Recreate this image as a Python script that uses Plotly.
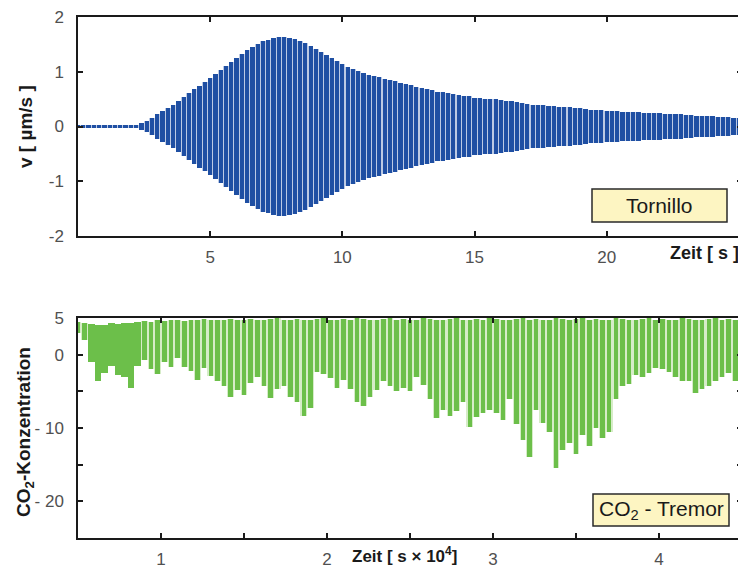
import numpy as np
import plotly.graph_objects as go

# ---- Tornillo: velocity envelope (µm/s), sampled every 0.2 s from t = 0 s ----
tornillo_dt = 0.2
tornillo_amp = [
    0.03, 0.03, 0.03, 0.03, 0.03, 0.03, 0.03, 0.03, 0.03, 0.03, 0.03, 0.03,
    0.06, 0.10, 0.16, 0.22, 0.28, 0.34, 0.40, 0.47, 0.54, 0.61, 0.68, 0.75,
    0.82, 0.89, 0.96, 1.04, 1.11, 1.18, 1.25, 1.32, 1.40, 1.46, 1.51, 1.56,
    1.59, 1.62, 1.63, 1.63, 1.62, 1.60, 1.57, 1.53, 1.48, 1.42, 1.36, 1.30,
    1.25, 1.19, 1.14, 1.09, 1.05, 1.01, 0.98, 0.95, 0.92, 0.90, 0.87, 0.85,
    0.83, 0.80, 0.78, 0.76, 0.73, 0.71, 0.69, 0.66, 0.64, 0.63, 0.61, 0.59,
    0.58, 0.56, 0.55, 0.53, 0.52, 0.51, 0.50, 0.50, 0.49, 0.47, 0.46, 0.44,
    0.43, 0.41, 0.40, 0.39, 0.39, 0.38, 0.37, 0.36, 0.35, 0.35, 0.34, 0.33,
    0.32, 0.31, 0.31, 0.30, 0.29, 0.28, 0.28, 0.27, 0.27, 0.26, 0.26, 0.25,
    0.25, 0.24, 0.24, 0.23, 0.23, 0.22, 0.22, 0.21, 0.21, 0.20, 0.20, 0.19,
    0.19, 0.18, 0.17, 0.17, 0.16, 0.15,
]

# ---- CO2 tremor: upper and lower values, sampled every 0.04 (x 10^4 s) from 0.5 ----
tremor_t0 = 0.5
tremor_dt = 0.04
tremor_top = [
    4.5, 4.4, 4.2, 4.0, 4.1, 4.3, 4.2, 4.4, 4.3, 4.5, 4.6, 4.5,
    4.7, 4.6, 4.8, 4.7, 4.6, 4.8, 4.7, 4.9, 4.8, 4.7, 4.8, 4.9,
    4.8, 4.7, 4.9, 4.8, 4.7, 4.9, 5.0, 4.8, 4.7, 4.9, 4.8, 4.7,
    4.9, 5.0, 4.8, 4.7, 4.9, 4.8, 5.0, 4.9, 4.8, 4.7, 4.9, 5.0,
    4.8, 4.9, 4.7, 4.8, 5.0, 4.9, 4.8, 4.7, 4.9, 5.0, 4.8, 4.7,
    4.9, 4.8, 5.0, 4.9, 4.8, 4.7, 4.9, 5.0, 4.8, 4.9, 4.7, 4.8,
    5.0, 4.9, 4.8, 4.9, 5.0, 4.8, 4.9, 4.7, 4.8, 5.0, 4.9, 4.8,
    4.7, 4.9, 5.0, 4.8, 4.9, 4.7, 4.8, 5.0, 4.9, 4.8, 4.7, 4.9,
    5.0, 4.8, 4.9, 4.7, 4.8,
]
tremor_low = [
    3.0, 2.0, -1.0, -3.6, -2.5, -1.5, -2.8, -3.0, -4.5, -1.5, -0.7, -2.0,
    -2.6, -1.0, -1.7, -0.5, -1.6, -2.2, -3.4, -1.8, -2.9, -3.6, -4.3, -5.7,
    -4.8, -5.5, -3.9, -3.0, -4.2, -5.9, -4.6, -4.3, -5.7, -6.5, -8.4, -7.3,
    -2.3, -2.6, -3.2, -4.5, -3.4, -4.6, -6.4, -7.0, -5.8, -4.8, -3.6, -4.2,
    -5.0, -4.5, -5.0, -3.0, -4.1, -6.0, -8.6, -7.5, -8.4, -7.7, -6.5, -9.8,
    -8.5, -7.9, -7.5, -8.0, -8.9, -6.1, -9.5, -11.6, -13.9, -7.5, -9.3, -10.6,
    -15.5, -13.0, -12.0, -13.5, -11.0, -12.5, -10.0, -11.3, -10.5, -6.1, -4.3, -4.0,
    -2.7, -3.0, -2.5, -1.8, -2.0, -2.3, -3.0, -3.6, -3.6, -5.2, -4.6, -4.3,
    -3.6, -3.0, -2.5, -3.6, -3.0,
]

# tick labels
top_xticks = [5, 10, 15, 20]
top_yticks = [2, 1, 0, -1, -2]
top_ytext = ["2", "1", "0", "-1", "-2"]
bot_xticks = [1, 1.5, 2, 2.5, 3, 3.5, 4]
bot_xtext = ["1", "", "2", "", "3", "", "4"]
bot_yticks = [5, 0, -5, -10, -15, -20]
bot_ytext = ["5", "0", "", "- 10", "", "- 20"]

BLUE = "#1f4fa3"
BLUE_PALE = "#bccae4"
GREEN = "#6cbf4a"
GREEN_PALE = "#d6ecc8"

# page body has an 8px margin: figure is drawn 8px in from the window corner
OFF = 8
WF, HF = 746 - OFF, 568 - OFF


def px(x):
    return (x - OFF) / WF


def py(y):
    return 1 - (y - OFF) / HF


t1 = np.arange(len(tornillo_amp)) * tornillo_dt
a1 = np.array(tornillo_amp)
t2 = tremor_t0 + np.arange(len(tremor_low)) * tremor_dt
top2 = np.array(tremor_top)
low2 = np.array(tremor_low)

fig = go.Figure()
# Tornillo
fig.add_trace(go.Bar(x=t1, y=2 * a1, base=-a1, width=tornillo_dt,
                     marker=dict(color=BLUE_PALE, line=dict(width=0)),
                     xaxis="x", yaxis="y", showlegend=False))
fig.add_trace(go.Bar(x=t1, y=2 * a1, base=-a1, width=tornillo_dt * 0.8,
                     marker=dict(color=BLUE, line=dict(width=0)),
                     xaxis="x", yaxis="y", showlegend=False))
# CO2 tremor
w2 = np.where((t2 > 0.54) & (t2 < 0.88), tremor_dt, tremor_dt * 0.68)
fig.add_trace(go.Bar(x=t2, y=top2 - low2, base=low2, width=tremor_dt,
                     marker=dict(color=GREEN_PALE, line=dict(width=0)),
                     xaxis="x2", yaxis="y2", showlegend=False))
fig.add_trace(go.Bar(x=t2, y=top2 - low2, base=low2, width=w2,
                     marker=dict(color=GREEN, line=dict(width=0)),
                     xaxis="x2", yaxis="y2", showlegend=False))

FONT = "Liberation Sans, Arial, sans-serif"
tickfont = dict(family=FONT, size=17, color="#505050")
axis_common = dict(showline=True, linecolor="#1a1a1a", linewidth=1.5,
                   mirror="ticks", ticks="inside", ticklen=5, tickwidth=1.5,
                   tickcolor="#1a1a1a", showgrid=False, zeroline=False,
                   tickfont=tickfont, ticklabeloverflow="allow")

fig.update_layout(
    width=WF, height=HF, template="none",
    margin=dict(l=0, r=0, t=0, b=0),
    paper_bgcolor="white", plot_bgcolor="white",
    barmode="overlay", bargap=0,
    xaxis=dict(domain=[px(78), px(742)], anchor="y", range=[0, 25.12],
               tickvals=top_xticks, ticklabelstandoff=5, **axis_common),
    yaxis=dict(domain=[py(236), py(17)], anchor="x", range=[-2.003, 2.003],
               tickvals=top_yticks, ticktext=top_ytext, ticklabelstandoff=9,
               **axis_common),
    xaxis2=dict(domain=[px(78), px(742)], anchor="y2", range=[0.5, 4.5],
                tickvals=bot_xticks, ticktext=bot_xtext, ticklabelstandoff=5,
                **axis_common),
    yaxis2=dict(domain=[py(538), py(318)], anchor="x2", range=[-25, 5.02],
                tickvals=bot_yticks, ticktext=bot_ytext, ticklabelstandoff=9,
                **axis_common),
)

titlefont = dict(family=FONT, size=18, color="#1a1a1a")
boxfont = dict(family=FONT, size=21, color="#1a1a1a")
anns = [
    dict(text="<b>v [ µm/s ]</b>", x=px(25), y=py(127), textangle=-90,
         font=dict(family=FONT, size=19, color="#1a1a1a")),
    dict(text="<b>CO<sub>2</sub>-Konzentration</b>", x=px(25), y=py(432), textangle=-90,
         font=dict(family=FONT, size=19, color="#1a1a1a")),
    dict(text="<b>Zeit [ s ]</b>", x=px(704), y=py(253)),
    dict(text="<b>Zeit [ s × 10<sup>4</sup>]</b>", x=px(404), y=py(555),
         font=dict(family=FONT, size=17, color="#1a1a1a")),
    dict(text="Tornillo", x=px(659.5), y=py(205.5), font=boxfont),
    dict(text="CO<sub>2</sub> - Tremor", x=px(661), y=py(510), font=boxfont),
]
for an in anns:
    an.setdefault("font", titlefont)
    fig.add_annotation(xref="paper", yref="paper", showarrow=False,
                       xanchor="center", yanchor="middle", **an)

for (bx0, by0, bx1, by1) in [(592, 189, 727, 222), (593, 494, 729, 526)]:
    fig.add_shape(type="rect", xref="paper", yref="paper",
                  x0=px(bx0), x1=px(bx1), y0=py(by1), y1=py(by0),
                  fillcolor="#fdf5c2", line=dict(color="#2a2a2a", width=1.5),
                  layer="above")

fig.write_html("out.html")
